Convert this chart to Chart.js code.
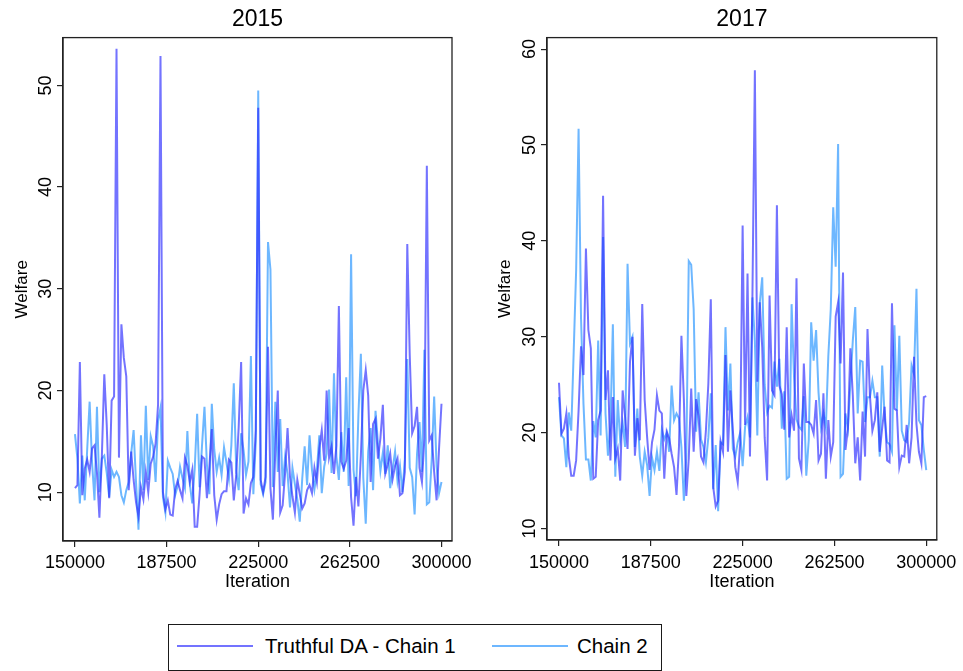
<!DOCTYPE html>
<html>
<head>
<meta charset="utf-8">
<title>Welfare traces</title>
<script src="https://cdn.jsdelivr.net/npm/chart.js@4.4.1/dist/chart.umd.min.js"></script>
<style>
    html, body { margin: 0; padding: 0; background: #fff; }
    body {
        width: 963px; height: 671px; position: relative; overflow: hidden;
        font-family: 'Liberation Sans', Arial, sans-serif;
    }
    canvas { position: absolute; top: 0; }
    #legend {
        position: absolute; left: 168px; top: 624px; width: 494px; height: 47px;
        box-sizing: border-box; border: 1.5px solid #1a1a1a; background: #fff;
    }
    #legend .swatch { position: absolute; top: 20px; width: 76px; height: 2px; }
    #legend .label {
        position: absolute; top: 21px; transform: translateY(-50%);
        font-size: 20.5px; line-height: 1; color: #000; white-space: nowrap;
    }
</style>
</head>
<body>
<canvas id="chart2015" width="482" height="610" style="left:0px"></canvas>
<canvas id="chart2017" width="481" height="610" style="left:482px"></canvas>
<div id="legend">
    <span class="swatch" id="sw1" style="left:8px"></span>
    <span class="label" style="left:96px">Truthful DA - Chain 1</span>
    <span class="swatch" id="sw2" style="left:323px"></span>
    <span class="label" style="left:408px">Chain 2</span>
</div>

<script>
// Welfare draws, one value every 1000 iterations from 150000 to 300000
const welfare2015Chain1 = [
    10.4, 10.7, 22.8, 9.7, 12.3, 13.2, 12.0, 14.3, 14.6, 11.9,
    7.5, 13.5, 21.6, 16.6, 9.4, 19.0, 19.4, 53.6, 13.4, 26.5,
    23.2, 21.4, 10.2, 14.0, 11.2, 9.0, 7.6, 10.5, 9.3, 12.0,
    10.0, 12.8, 13.5, 14.8, 18.6, 52.9, 10.0, 8.3, 9.2, 7.8,
    7.7, 10.3, 11.1, 10.2, 9.4, 13.4, 12.6, 11.0, 12.2, 6.6,
    6.6, 9.8, 13.5, 13.3, 9.4, 12.5, 16.2, 9.7, 7.3, 8.8,
    9.8, 10.1, 10.1, 13.2, 12.9, 9.2, 11.7, 16.4, 22.8, 7.9,
    9.4, 8.8, 10.9, 11.5, 16.1, 47.8, 11.2, 10.0, 11.5, 24.3,
    10.4, 7.3, 14.1, 20.0, 8.0, 8.7, 11.9, 16.3, 11.5, 9.6,
    8.0, 11.2, 9.8, 8.4, 8.9, 10.2, 10.7, 9.9, 12.4, 11.0,
    14.3, 16.1, 13.1, 20.0, 13.4, 14.5, 11.8, 14.6, 28.3, 13.0,
    12.3, 13.1, 16.3, 9.5, 6.7, 11.5, 8.6, 13.6, 20.0, 22.0,
    19.5, 11.0, 16.7, 17.2, 13.3, 15.3, 18.6, 11.8, 12.7, 13.8,
    11.3, 12.6, 13.3, 9.7, 9.9, 12.0, 34.4, 23.5, 15.8, 16.5,
    18.4, 12.4, 11.0, 15.3, 42.1, 15.1, 15.6, 12.0, 9.2, 14.3,
    18.7
];
const welfare2015Chain2 = [
    15.7, 13.3, 8.9, 13.6, 9.2, 14.2, 18.9, 12.9, 9.2, 18.4,
    10.0, 13.3, 13.6, 11.9, 9.5, 12.2, 11.5, 12.0, 11.5, 9.7,
    9.0, 10.2, 11.0, 13.8, 16.1, 10.9, 6.3, 15.6, 10.2, 18.5,
    11.2, 15.5, 14.5, 11.0, 17.0, 18.3, 9.5, 8.0, 13.1, 12.4,
    11.8, 9.7, 10.6, 12.5, 11.4, 10.4, 16.0, 10.8, 8.9, 12.3,
    17.7, 10.5, 14.6, 18.4, 12.7, 9.8, 18.7, 14.2, 12.0, 13.4,
    11.7, 14.4, 12.9, 11.3, 14.6, 20.7, 12.1, 10.2, 15.8, 14.1,
    11.7, 13.0, 23.4, 9.8, 15.0, 49.5, 10.8, 9.8, 11.0, 34.6,
    31.9, 10.5, 18.9, 12.0, 17.2, 10.6, 13.5, 11.8, 8.5, 12.4,
    10.8, 9.3, 7.1, 11.3, 14.5, 10.7, 15.6, 12.2, 10.3, 12.1,
    15.6, 9.9, 12.5, 13.8, 20.1, 11.9, 21.7, 13.5, 11.2, 15.9,
    12.0, 21.3, 10.6, 33.4, 12.2, 9.6, 17.6, 23.6, 11.4, 6.9,
    14.0, 16.3, 10.2, 18.0, 14.8, 12.1, 13.9, 11.8, 14.6, 10.4,
    12.3, 14.0, 11.1, 12.6, 10.0, 13.2, 23.1, 12.4, 11.5, 7.8,
    13.8, 16.9, 12.0, 24.0, 8.8, 9.0, 13.2, 19.4, 12.5, 9.9,
    11.0
];
const welfare2017Chain1 = [
    25.2, 19.9, 20.4, 22.0, 17.5, 15.5, 15.5, 17.1, 22.3, 29.0,
    26.0, 39.2, 30.7, 28.8, 15.2, 15.4, 21.3, 22.3, 44.7, 23.4,
    26.5, 17.1, 23.7, 17.3, 18.3, 15.0, 24.4, 21.6, 18.3, 27.4,
    30.0, 17.6, 21.5, 19.2, 33.4, 23.4, 19.5, 16.1, 19.0, 20.3,
    23.9, 22.3, 22.0, 15.2, 20.1, 19.4, 17.8, 16.4, 13.5, 18.5,
    30.1, 23.5, 13.4, 17.3, 24.6, 18.0, 23.5, 21.7, 17.5, 16.9,
    20.2, 25.1, 33.9, 14.3, 12.3, 12.9, 19.1, 18.0, 28.1, 18.0,
    24.4, 20.3, 16.4, 14.8, 19.0, 41.6, 20.8, 36.6, 17.5, 34.2,
    57.8, 25.3, 33.6, 28.9, 19.5, 15.0, 34.3, 24.4, 23.9, 43.7,
    24.9, 24.0, 20.3, 31.0, 19.5, 21.8, 20.2, 36.1, 17.3, 16.1,
    27.2, 21.1, 21.1, 20.8, 19.9, 23.4, 17.1, 17.8, 24.1, 15.2,
    21.3, 17.5, 19.0, 32.1, 33.6, 27.2, 36.7, 18.2, 20.4, 28.8,
    23.9, 16.8, 19.5, 15.0, 22.2, 17.5, 30.8, 23.8, 20.2, 21.3,
    24.2, 18.0, 20.5, 22.7, 17.1, 16.9, 33.5, 22.5, 22.3, 16.4,
    17.6, 17.5, 20.8, 16.8, 19.5, 27.9, 20.9, 18.0, 16.8, 23.7,
    23.8
];
const welfare2017Chain2 = [
    23.7, 19.7, 19.4, 16.4, 22.1, 20.2, 28.4, 36.9, 51.7, 31.9,
    23.0, 17.2, 17.2, 15.0, 21.2, 19.5, 29.6, 19.7, 40.4, 22.0,
    17.6, 20.8, 31.3, 15.4, 23.4, 19.2, 21.0, 18.5, 37.6, 29.3,
    30.0, 18.5, 22.5, 17.5, 15.5, 18.0, 16.6, 13.4, 17.4, 16.1,
    18.0, 16.0, 20.3, 19.3, 20.0, 18.0, 24.9, 21.3, 22.0, 21.5,
    18.5, 12.9, 17.5, 37.9, 37.5, 32.9, 20.1, 24.2, 19.3, 18.5,
    16.9, 19.5, 24.1, 14.1, 18.7, 11.8, 19.0, 18.8, 31.0, 22.3,
    27.2, 18.3, 17.5, 19.0, 20.0, 16.5, 20.6, 21.6, 19.5, 34.1,
    29.6, 19.7, 33.5, 36.2, 25.0, 22.1, 22.8, 22.6, 27.4, 24.8,
    27.7, 20.4, 24.3, 15.2, 15.4, 33.4, 25.8, 21.4, 20.6, 20.3,
    23.8, 15.5, 19.2, 31.5, 27.5, 30.7, 24.2, 20.6, 22.0, 20.6,
    28.0, 32.9, 43.5, 37.3, 50.1, 15.4, 15.7, 22.0, 20.4, 25.1,
    29.6, 33.1, 22.0, 27.5, 27.4, 21.1, 23.7, 23.7, 25.4, 23.7,
    23.7, 17.5, 27.0, 21.6, 19.0, 18.8, 18.0, 31.2, 22.3, 30.1,
    20.2, 19.2, 19.0, 21.1, 27.0, 26.1, 35.0, 21.3, 20.8, 18.2,
    16.1
];

// Axis ticks
const iterationTicks = [150000, 187500, 225000, 262500, 300000];
const welfareTicks2015 = [10, 20, 30, 40, 50];
const welfareTicks2017 = [10, 20, 30, 40, 50, 60];

const FONT = "'Liberation Sans', Arial, sans-serif";
const COLOR_CHAIN1 = 'rgba(40, 40, 255, 0.65)';
const COLOR_CHAIN2 = 'rgba(30, 144, 255, 0.65)';

document.getElementById('sw1').style.background = COLOR_CHAIN1;
document.getElementById('sw2').style.background = COLOR_CHAIN2;

// Pair each draw with its iteration number
function toPoints(values) {
    return values.map((v, i) => ({ x: 150000 + i * 1000, y: v }));
}

// Full frame round the plot region plus vertical y tick labels
const framePlugin = {
    id: 'frameAndYLabels',
    afterDraw(chart) {
        const { ctx, chartArea } = chart;
        const yScale = chart.scales.y;
        ctx.save();
        ctx.strokeStyle = '#222';
        ctx.lineWidth = 1.3;
        ctx.strokeRect(chartArea.left, chartArea.top,
            chartArea.right - chartArea.left, chartArea.bottom - chartArea.top);

        ctx.fillStyle = '#000';
        ctx.font = '18px ' + FONT;
        ctx.textAlign = 'center';
        ctx.textBaseline = 'middle';
        chart.options.yTickValues.forEach(v => {
            const py = yScale.getPixelForValue(v);
            ctx.save();
            ctx.translate(chartArea.left - 18, py);
            ctx.rotate(-Math.PI / 2);
            ctx.fillText(String(v), 0, 1);
            ctx.restore();
        });
        ctx.restore();
    }
};

function buildPanel(canvasId, title, chain1, chain2, yMin, yMax, yTicks, box) {
    const ctx = document.getElementById(canvasId);
    return new Chart(ctx, {
        type: 'line',
        data: {
            datasets: [
                {
                    label: 'Truthful DA - Chain 1',
                    data: toPoints(chain1),
                    borderColor: COLOR_CHAIN1,
                    borderWidth: 2,
                    pointRadius: 0,
                    tension: 0,
                    fill: false
                },
                {
                    label: 'Chain 2',
                    data: toPoints(chain2),
                    borderColor: COLOR_CHAIN2,
                    borderWidth: 2,
                    pointRadius: 0,
                    tension: 0,
                    fill: false
                }
            ]
        },
        options: {
            responsive: false,
            animation: false,
            yTickValues: yTicks,
            layout: { padding: { top: 0, right: box.padRight, bottom: 0, left: 0 } },
            plugins: {
                legend: { display: false },
                tooltip: { enabled: false },
                title: {
                    display: true,
                    text: title,
                    fullSize: false,
                    color: '#000',
                    font: { family: FONT, size: 23, weight: 'normal' },
                    padding: { top: 6, bottom: 4 }
                }
            },
            scales: {
                x: {
                    type: 'linear',
                    min: 145100,
                    max: 304300,
                    afterBuildTicks: s => { s.ticks = iterationTicks.map(v => ({ value: v })); },
                    afterFit: s => { s.height = box.xAxisHeight; },
                    ticks: {
                        color: '#000',
                        font: { family: FONT, size: 18 },
                        padding: box.xTickPad,
                        maxRotation: 0,
                        autoSkip: false,
                        callback: v => String(v)
                    },
                    grid: { drawOnChartArea: false, drawTicks: true, tickLength: 6, color: '#222', lineWidth: 1.2 },
                    border: { display: true, color: '#222', width: 1.3 },
                    title: {
                        display: true,
                        text: 'Iteration',
                        color: '#000',
                        font: { family: FONT, size: 18 },
                        padding: { top: 0, bottom: 17 }
                    }
                },
                y: {
                    type: 'linear',
                    min: yMin,
                    max: yMax,
                    afterBuildTicks: s => { s.ticks = yTicks.map(v => ({ value: v })); },
                    afterFit: s => { s.width = box.yAxisWidth; },
                    ticks: { display: false },
                    grid: { drawOnChartArea: false, drawTicks: true, tickLength: 6, color: '#222', lineWidth: 1.2 },
                    border: { display: true, color: '#222', width: 1.3 },
                    title: {
                        display: true,
                        text: 'Welfare',
                        color: '#000',
                        font: { family: FONT, size: 17 },
                        padding: { top: box.yTitlePad, bottom: 0 }
                    }
                }
            }
        },
        plugins: [framePlugin]
    });
}

buildPanel('chart2015', '2015', welfare2015Chain1, welfare2015Chain2, 5.2, 54.7, welfareTicks2015,
    { padRight: 30, yAxisWidth: 63, xAxisHeight: 69, xTickPad: 5, yTitlePad: 12 });
buildPanel('chart2017', '2017', welfare2017Chain1, welfare2017Chain2, 8.8, 61.2, welfareTicks2017,
    { padRight: 26, yAxisWidth: 65, xAxisHeight: 70, xTickPad: 6, yTitlePad: 13 });
</script>
</body>
</html>
